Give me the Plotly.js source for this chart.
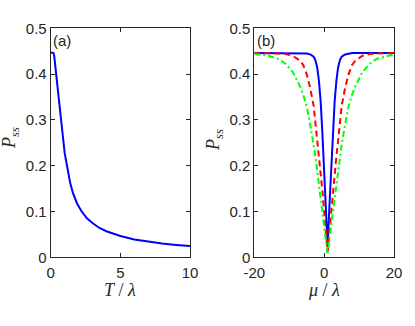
<!DOCTYPE html>
<html>
<head>
<meta charset="utf-8">
<script src="https://cdn.plot.ly/plotly-3.0.1.min.js"></script>
<style>
  html, body {margin: 0; padding: 0; background: #ffffff;}
  #plot {width: 415px; height: 326px;}
</style>
</head>
<body>
<div id="plot"></div>
<script>
// Panel (a): P_ss against T/lambda
const T_VALUES = [0, 0.1, 0.2, 0.25, 0.3, 0.4, 0.5, 0.6, 0.7, 0.8, 0.9, 1.0,
  1.2, 1.4, 1.6, 1.9, 2.2, 2.6, 3.0, 3.5, 4.0, 5.0, 6.0, 7.0, 8.0, 9.0, 10.0];
const P_VS_T = [0.447, 0.447, 0.446, 0.44, 0.425, 0.398, 0.37, 0.34, 0.31,
  0.28, 0.255, 0.228, 0.195, 0.162, 0.14, 0.117, 0.101, 0.085, 0.075, 0.064,
  0.057, 0.0465, 0.039, 0.034, 0.030, 0.027, 0.0245];

// Panel (b): P_ss against mu/lambda, three curves
const MU_VALUES = [-20, -16, -13, -11, -9, -7, -6, -5, -4, -3, -2.5, -2, -1.5,
  -1, -0.5, 0, 0.5, 1, 1.5, 2, 2.5, 3, 3.5, 4, 4.5, 5, 6, 7, 8, 9, 11, 13, 15,
  18, 20];
const P_BLUE = [0.446, 0.446, 0.446, 0.446, 0.446, 0.446, 0.446, 0.445, 0.443,
  0.438, 0.43, 0.415, 0.385, 0.34, 0.27, 0.19, 0.11, 0.022, 0.11, 0.19, 0.27,
  0.34, 0.385, 0.415, 0.43, 0.438, 0.443, 0.445, 0.446, 0.446, 0.446, 0.446,
  0.446, 0.446, 0.446];
const P_RED = [0.446, 0.446, 0.445, 0.444, 0.44, 0.43, 0.42, 0.40, 0.37, 0.33,
  0.295, 0.255, 0.22, 0.185, 0.145, 0.10, 0.055, 0.012, 0.055, 0.10, 0.145,
  0.185, 0.22, 0.255, 0.295, 0.33, 0.37, 0.40, 0.42, 0.43, 0.44, 0.444, 0.445,
  0.446, 0.446];
const P_GREEN = [0.444, 0.44, 0.433, 0.422, 0.405, 0.375, 0.355, 0.33, 0.29,
  0.245, 0.22, 0.19, 0.16, 0.13, 0.10, 0.07, 0.04, 0.006, 0.04, 0.07, 0.10,
  0.13, 0.16, 0.19, 0.22, 0.245, 0.29, 0.33, 0.355, 0.375, 0.405, 0.422, 0.433,
  0.44, 0.443];

const Y_TICKS = [0, 0.1, 0.2, 0.3, 0.4, 0.5];
const Y_TICK_TEXT = ['0', '0.1', '0.2', '0.3', '0.4', '0.5'];
const T_TICKS = [0, 5, 10];
const MU_TICKS = [-20, 0, 20];
const MU_TICK_TEXT = ['-20', '0', '20'];

const AXIS_COLOR = '#262626';
const TICK_FONT = {family: 'Liberation Sans, Arial, sans-serif', size: 15, color: AXIS_COLOR};
const TITLE_FONT = {family: 'Liberation Serif, Times New Roman, serif', size: 18, color: AXIS_COLOR};

function baseAxis() {
  return {
    showline: true,
    mirror: 'ticks',
    linecolor: AXIS_COLOR,
    linewidth: 1,
    ticks: 'inside',
    ticklen: 4,
    tickcolor: AXIS_COLOR,
    tickfont: TICK_FONT,
    showgrid: false,
    zeroline: false,
    fixedrange: true
  };
}

let traceA = {
  x: T_VALUES, y: P_VS_T, xaxis: 'x', yaxis: 'y',
  mode: 'lines', line: {color: '#0000ff', width: 2}, showlegend: false
};
let traceBlue = {
  x: MU_VALUES, y: P_BLUE, xaxis: 'x2', yaxis: 'y2',
  mode: 'lines', line: {color: '#0000ff', width: 2}, showlegend: false
};
let traceRed = {
  x: MU_VALUES, y: P_RED, xaxis: 'x2', yaxis: 'y2',
  mode: 'lines', line: {color: '#ff0000', width: 2, dash: '6px,4px'}, showlegend: false
};
let traceGreen = {
  x: MU_VALUES, y: P_GREEN, xaxis: 'x2', yaxis: 'y2',
  mode: 'lines', line: {color: '#00ff00', width: 2, dash: '6px,3px,2px,3px'}, showlegend: false
};

let layout = {
  width: 415,
  height: 326,
  margin: {l: 0, r: 0, t: 0, b: 0},
  paper_bgcolor: '#ffffff',
  plot_bgcolor: '#ffffff',
  xaxis: Object.assign(baseAxis(), {
    domain: [0.1222, 0.4578], range: [0, 10], tickvals: T_TICKS,
    ticklabelstandoff: 2, anchor: 'y'
  }),
  yaxis: Object.assign(baseAxis(), {
    domain: [0.2107, 0.9132], range: [0, 0.5], tickvals: Y_TICKS,
    ticktext: Y_TICK_TEXT, anchor: 'x'
  }),
  xaxis2: Object.assign(baseAxis(), {
    domain: [0.6128, 0.9494], range: [-20, 20], tickvals: MU_TICKS,
    ticktext: MU_TICK_TEXT, ticklabelstandoff: 2, anchor: 'y2'
  }),
  yaxis2: Object.assign(baseAxis(), {
    domain: [0.2107, 0.9132], range: [0, 0.5], tickvals: Y_TICKS,
    ticktext: Y_TICK_TEXT, anchor: 'x2'
  }),
  annotations: [
    {text: '(a)', xref: 'paper', yref: 'paper', x: 51 / 415, y: 1 - 41 / 326,
     xanchor: 'left', yanchor: 'middle', showarrow: false, font: TICK_FONT},
    {text: '(b)', xref: 'paper', yref: 'paper', x: 255 / 415, y: 1 - 41 / 326,
     xanchor: 'left', yanchor: 'middle', showarrow: false, font: TICK_FONT},
    {text: '<i>T</i> / <i>λ</i>', xref: 'paper', yref: 'paper', x: 120 / 415, y: 1 - 290 / 326,
     xanchor: 'center', yanchor: 'middle', showarrow: false, font: TITLE_FONT},
    {text: '<i>μ</i> / <i>λ</i>', xref: 'paper', yref: 'paper', x: 324 / 415, y: 1 - 290 / 326,
     xanchor: 'center', yanchor: 'middle', showarrow: false, font: TITLE_FONT},
    {text: '<i>P</i><sub><i>ss</i></sub>', xref: 'paper', yref: 'paper', x: 10 / 415, y: 1 - 138 / 326,
     xanchor: 'center', yanchor: 'middle', textangle: -90, showarrow: false, font: TITLE_FONT},
    {text: '<i>P</i><sub><i>ss</i></sub>', xref: 'paper', yref: 'paper', x: 214 / 415, y: 1 - 140 / 326,
     xanchor: 'center', yanchor: 'middle', textangle: -90, showarrow: false, font: TITLE_FONT}
  ]
};

Plotly.newPlot('plot', [traceA, traceBlue, traceRed, traceGreen], layout,
  {displayModeBar: false, staticPlot: true});
</script>
</body>
</html>
